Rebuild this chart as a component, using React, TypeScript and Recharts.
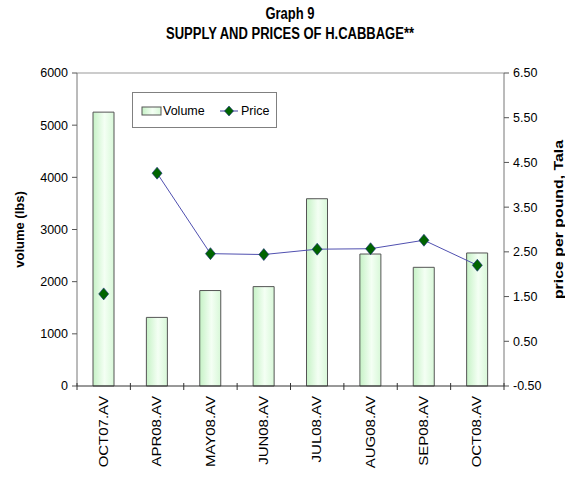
import React from 'react';
import {
  ComposedChart,
  Bar,
  Line,
  XAxis,
  YAxis,
  ReferenceLine,
} from 'recharts';

const MONTHS = ['OCT07.AV', 'APR08.AV', 'MAY08.AV', 'JUN08.AV', 'JUL08.AV', 'AUG08.AV', 'SEP08.AV', 'OCT08.AV'];
const VOLUME = [5250, 1315, 1830, 1905, 3590, 2530, 2275, 2550];
const PRICE = [1.56, 4.26, 2.46, 2.44, 2.56, 2.57, 2.76, 2.2];
// the price line is broken after OCT07 (months missing in between)
const LINE_START = 1;

const VOLUME_TICKS = [0, 1000, 2000, 3000, 4000, 5000, 6000];
const PRICE_TICKS = [-0.5, 0.5, 1.5, 2.5, 3.5, 4.5, 5.5, 6.5];

const data = MONTHS.map((m, i) => ({
  month: m,
  volume: VOLUME[i],
  priceLine: i >= LINE_START ? PRICE[i] : null,
  priceSolo: i < LINE_START ? PRICE[i] : null,
}));

const FONT = '"Liberation Sans", Arial, sans-serif';

function Diamond(props: any) {
  const { cx, cy } = props;
  if (cx == null || cy == null || props.value == null) return null;
  return (
    <path
      d={`M${cx},${cy - 6} L${cx + 5},${cy} L${cx},${cy + 6} L${cx - 5},${cy} Z`}
      fill="#006400"
      stroke="#1a2a80"
      strokeWidth={0.6}
    />
  );
}

function CategoryTick(props: any) {
  const { x, y, payload, index } = props;
  const half = payload.offset || 26.7;
  return (
    <g>
      {index === 0 && <line x1={x - half} x2={x - half} y1={y - 3} y2={y + 4} stroke="#333" />}
      <line x1={x + half} x2={x + half} y1={y - 3} y2={y + 4} stroke="#333" />
      <text
        transform={`translate(${x},${y + 10}) rotate(-90) scale(1.2,1)`}
        textAnchor="end"
        dominantBaseline="central"
        fontSize={12.5}
        fontFamily={FONT}
        fill="#000"
      >
        {payload.value}
      </text>
    </g>
  );
}

function LegendBox() {
  return (
    <div
      style={{
        position: 'absolute',
        left: 132,
        top: 92,
        width: 143,
        height: 34,
        border: '1px solid #808080',
        background: '#fff',
      }}
    >
      <svg width={143} height={34} style={{ display: 'block' }}>
        <defs>
          <linearGradient id="legendFill" x1="0" y1="0" x2="1" y2="0">
            <stop offset="0%" stopColor="#c6f2c6" />
            <stop offset="55%" stopColor="#f4fff4" />
            <stop offset="100%" stopColor="#d8f8d8" />
          </linearGradient>
        </defs>
        <rect x={9} y={14} width={19} height={8} fill="url(#legendFill)" stroke="#555" />
        <text x={30} y={22} fontSize={12.5} fontFamily={FONT}>Volume</text>
        <line x1={87} x2={105} y1={18} y2={18} stroke="#4040a0" />
        <path d="M96,13 L100.5,18 L96,23 L91.5,18 Z" fill="#006400" stroke="#1a2a80" strokeWidth={0.6} />
        <text x={108} y={22} fontSize={12.5} fontFamily={FONT}>Price</text>
      </svg>
    </div>
  );
}

export default function App() {
  return (
    <div style={{ position: 'absolute', left: 0, top: 0, width: 565, height: 478, background: '#fff', fontFamily: FONT }}>
      <div
        style={{
          position: 'absolute',
          top: 3,
          left: 0,
          width: 580,
          textAlign: 'center',
          fontWeight: 'bold',
          fontSize: 13,
          lineHeight: '17px',
          transform: 'scaleY(1.2)',
          transformOrigin: 'top',
        }}
      >
        <div>Graph 9</div>
        <div>SUPPLY AND PRICES OF H.CABBAGE**</div>
      </div>
      <ComposedChart
        width={565}
        height={478}
        data={data}
        margin={{ top: 73, right: 0, left: 0, bottom: 0 }}
        barCategoryGap="30%"
      >
        <defs>
          <linearGradient id="barFill" x1="0" y1="0" x2="1" y2="0">
            <stop offset="0%" stopColor="#c6f2c6" />
            <stop offset="55%" stopColor="#f4fff4" />
            <stop offset="100%" stopColor="#d8f8d8" />
          </linearGradient>
        </defs>
        <XAxis
          dataKey="month"
          height={92}
          interval={0}
          tickSize={0}
          tickMargin={0}
          tickLine={false}
          axisLine={{ stroke: '#333' }}
          tick={<CategoryTick />}
        />
        <YAxis
          yAxisId="left"
          width={77}
          domain={[0, 6000]}
          ticks={VOLUME_TICKS}
          interval={0}
          tickSize={5}
          tickMargin={4}
          tickLine={{ stroke: '#555' }}
          axisLine={{ stroke: '#777' }}
          tick={{ fill: '#000', fontSize: 12.5, fontFamily: FONT }}
          label={({ viewBox }: any) => (
            <text
              transform={`translate(${viewBox.x + 19},${viewBox.y + viewBox.height / 2}) rotate(-90)`}
              textAnchor="middle"
              dominantBaseline="central"
              fontSize={13}
              fontWeight="bold"
              fontFamily={FONT}
            >
              volume (lbs)
            </text>
          )}
        />
        <YAxis
          yAxisId="right"
          orientation="right"
          width={61}
          domain={[-0.5, 6.5]}
          ticks={PRICE_TICKS}
          interval={0}
          tickSize={5}
          tickMargin={4}
          tickFormatter={(v: number) => v.toFixed(2)}
          tickLine={{ stroke: '#555' }}
          axisLine={{ stroke: '#777' }}
          tick={{ fill: '#000', fontSize: 12.5, fontFamily: FONT }}
          label={({ viewBox }: any) => (
            <text
              transform={`translate(${viewBox.x + 55},${viewBox.y + viewBox.height / 2 - 10}) rotate(-90) scale(1.22,1)`}
              textAnchor="middle"
              dominantBaseline="central"
              fontSize={13}
              fontWeight="bold"
              fontFamily={FONT}
            >
              price per pound, Tala
            </text>
          )}
        />
        <ReferenceLine yAxisId="left" y={6000} stroke="#999" />
        <Bar
          yAxisId="left"
          dataKey="volume"
          name="Volume"
          fill="url(#barFill)"
          stroke="#555"
          strokeWidth={1}
          isAnimationActive={false}
        />
        <Line
          yAxisId="right"
          dataKey="priceLine"
          name="Price"
          stroke="#5050b0"
          strokeWidth={1}
          dot={<Diamond />}
          activeDot={false}
          connectNulls={false}
          isAnimationActive={false}
        />
        <Line
          yAxisId="right"
          dataKey="priceSolo"
          legendType="none"
          stroke="none"
          dot={<Diamond />}
          activeDot={false}
          isAnimationActive={false}
        />
      </ComposedChart>
      <LegendBox />
    </div>
  );
}
